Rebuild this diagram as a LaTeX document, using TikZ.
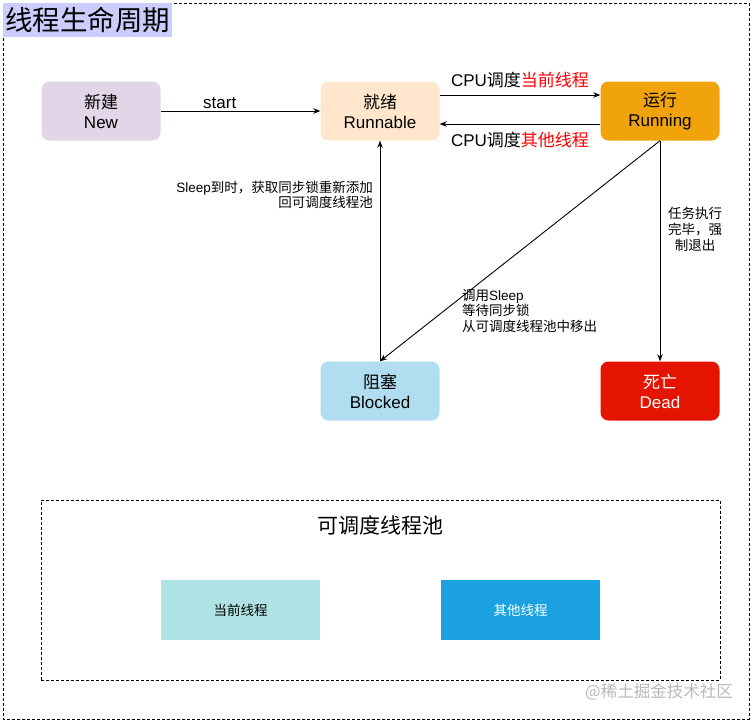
\documentclass[tikz,border=0pt]{standalone}
\usepackage{fontspec}
\setmainfont{Noto Sans CJK SC}
\newfontfamily\lat{Liberation Sans}
\usetikzlibrary{arrows.meta}
\definecolor{newc}{HTML}{E1D5E7}
\definecolor{runnablec}{HTML}{FFE6CC}
\definecolor{runningc}{HTML}{F0A30A}
\definecolor{blockedc}{HTML}{B1DDF0}
\definecolor{deadc}{HTML}{E51400}
\definecolor{curc}{HTML}{B0E3E6}
\definecolor{otherc}{HTML}{1BA1E2}
\definecolor{titlebg}{HTML}{CCCCFF}
\definecolor{hot}{HTML}{FF0000}
\definecolor{wm}{HTML}{B8B8B8}
\begin{document}
\begin{tikzpicture}[x=1pt,y=-1pt,
  state/.style={rounded corners=8pt, minimum width=119pt, minimum height=59pt, align=center,
    inner sep=0pt, font=\fontsize{17}{20}\selectfont},
  arr/.style={-{Stealth[length=7pt,width=5.5pt]}, line width=0.9pt},
  elabel/.style={font=\fontsize{17}{20}\selectfont, inner sep=1pt},
  slabel/.style={font=\fontsize{13.5}{15.5}\selectfont, inner sep=0pt},
  pooltask/.style={minimum width=159pt, minimum height=60pt, inner sep=0pt, font=\fontsize{13.5}{15}\selectfont},
  dashbox/.style={draw, line width=0.8pt, dash pattern=on 3pt off 2pt}
]
\useasboundingbox (0,0) rectangle (751,721);
\draw[dashbox] (3,3) rectangle (749,719);
\node[fill=titlebg, anchor=north west, minimum width=169pt, minimum height=34pt, inner sep=0pt,
  font=\fontsize{27.5}{30}\selectfont] (title) at (3,3) {线程生命周期};

\node[state, fill=newc] (new) at (101,111) {新建\\{\lat New}};
\node[state, fill=runnablec] (runnable) at (380,111) {就绪\\{\lat Runnable}};
\node[state, fill=runningc] (running) at (660,111) {运行\\{\lat Running}};
\node[state, fill=blockedc] (blocked) at (380,391) {阻塞\\{\lat Blocked}};
\node[state, fill=deadc, text=white] (dead) at (660,391) {死亡\\{\lat Dead}};

\draw[arr] (new.east) -- node[elabel, pos=0.37, above=1pt] (lstart) {\lat start} (runnable.west);
\draw[arr] ([yshift=16pt]runnable.east) -- node[elabel, midway, above=6pt] (lcur) {{\lat CPU}调度\textcolor{hot}{当前线程}} ([yshift=16pt]running.west);
\draw[arr] ([yshift=-13pt]running.west) -- node[elabel, midway, below=7pt] (loth) {{\lat CPU}调度\textcolor{hot}{其他线程}} ([yshift=-13pt]runnable.east);
\draw[arr] (blocked.north) -- (runnable.south);
\draw[arr] (running.south) -- (blocked.north);
\draw[arr] (running.south) -- (dead.north);

\node[slabel, align=right, anchor=east] (lwake) at (373,195) {{\lat Sleep}到时，获取同步锁重新添加\\回可调度线程池};
\node[slabel, align=left, anchor=west] (lsleep) at (462,311) {调用{\lat Sleep}\\等待同步锁\\从可调度线程池中移出};
\node[slabel, align=center, font=\fontsize{13.5}{16}\selectfont] (lend) at (695,229) {任务执行\\完毕，强\\制退出};

\node[dashbox, minimum width=679pt, minimum height=180pt, inner sep=0pt] (pool) at (380.5,590) {};
\node[font=\fontsize{21}{24}\selectfont, inner sep=0pt] (pooltitle) at (380,525) {可调度线程池};
\node[pooltask, fill=curc] (cur) at (240.5,610) {当前线程};
\node[pooltask, fill=otherc, text=white] (oth) at (520.5,610) {其他线程};

\node[text=wm, font=\fontsize{16.5}{18}\selectfont, inner sep=0pt, anchor=east] (wmark) at (733,692) {@稀土掘金技术社区};
\end{tikzpicture}
\end{document}
